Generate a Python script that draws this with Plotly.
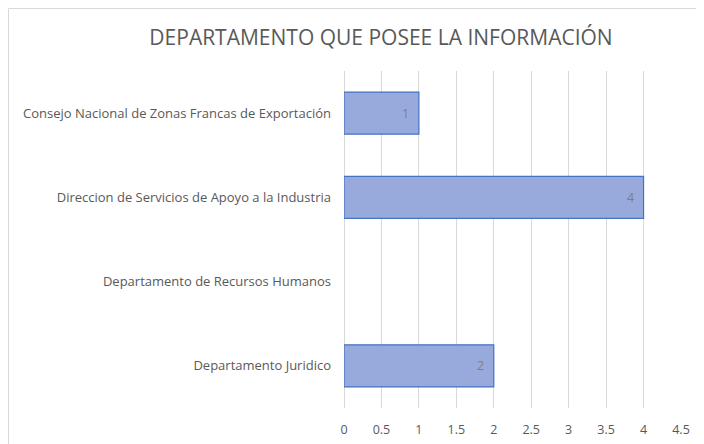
import plotly.graph_objects as go

categories = [
    "Departamento Juridico",
    "Departamento de Recursos Humanos",
    "Direccion de Servicios de Apoyo a la Industria",
    "Consejo Nacional de Zonas Francas de Exportación",
]
values = [2, None, 4, 1]
labels = ["2", "", "4", "1"]
x_ticks = [0, 0.5, 1, 1.5, 2, 2.5, 3, 3.5, 4, 4.5]
title_text = "DEPARTAMENTO QUE POSEE LA INFORMACIÓN"

FONT = "Open Sans"
W, H = 696, 436  # page body has an 8px margin
L, R, T, B = 336, 23, 63, 36
pw, ph = W - L - R, H - T - B

fig = go.Figure()
fig.add_trace(go.Bar(
    y=categories, x=values, orientation="h",
    marker=dict(color="#98AADC", line=dict(color="#4472C4", width=1.2)),
    width=0.5, hoverinfo="x+y",
))
annotations = []
for c, v, t in zip(categories, values, labels):
    if v is None or not t:
        continue
    annotations.append(dict(x=v, y=c, xref="x", yref="y", text=t, showarrow=False,
                            xanchor="right", yanchor="middle", xshift=-8,
                            font=dict(family=FONT, size=12.5, color="#7F7F7F")))

fig.update_layout(
    width=W, height=H,
    margin=dict(l=L, r=R, t=T, b=B),
    paper_bgcolor="white", plot_bgcolor="white",
    showlegend=False,
    annotations=annotations,
    title=dict(text=title_text, x=(381 - 8) / W, xref="container", xanchor="center",
               y=1 - 30 / H, yref="container", yanchor="middle",
               font=dict(family=FONT, size=21, color="#595959")),
    xaxis=dict(range=[0, 4.5], tickvals=x_ticks, ticktext=[str(t) for t in x_ticks],
               showgrid=True, gridcolor="#D9D9D9", gridwidth=1,
               zeroline=True, zerolinecolor="#D9D9D9", zerolinewidth=1,
               showline=False, ticks="", ticklen=0, ticklabelstandoff=12,
               automargin=False,
               tickfont=dict(family=FONT, size=12.5, color="#595959")),
    yaxis=dict(showgrid=False, zeroline=False, showline=False, ticks="",
               ticklabelstandoff=12, automargin=False,
               tickfont=dict(family=FONT, size=13, color="#595959")),
    font=dict(family=FONT),
    shapes=[dict(type="rect", xref="paper", yref="paper",
                 x0=(0.5 - L) / pw, x1=(W + 20 - L) / pw,
                 y0=-(B + 20) / ph, y1=(T + ph - 0.5) / ph,
                 line=dict(color="#D9D9D9", width=1), fillcolor="rgba(0,0,0,0)",
                 layer="below")],
)
fig.write_html("out.html")
